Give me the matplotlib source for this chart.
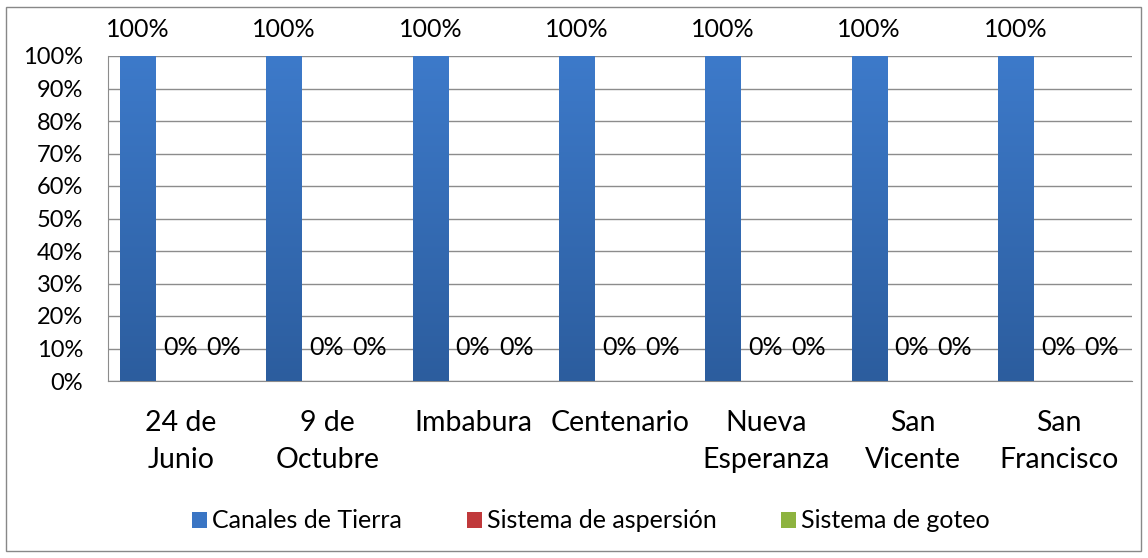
import matplotlib
matplotlib.use("Agg")
import matplotlib.pyplot as plt
from matplotlib.patches import Rectangle
from matplotlib.colors import LinearSegmentedColormap
import numpy as np

categories = ["24 de\nJunio", "9 de\nOctubre", "Imbabura", "Centenario",
              "Nueva\nEsperanza", "San\nVicente", "San\nFrancisco"]
series_names = ["Canales de Tierra", "Sistema de aspersión", "Sistema de goteo"]
canales = [100, 100, 100, 100, 100, 100, 100]
aspersion = [0, 0, 0, 0, 0, 0, 0]
goteo = [0, 0, 0, 0, 0, 0, 0]
yticks = [0, 10, 20, 30, 40, 50, 60, 70, 80, 90, 100]
colors = ["#3A75C4", "#C0393B", "#8DB33F"]
grad = [("#2C5D9E", "#3D7ACA"), ("#9B2D2F", "#D24446"), ("#76963A", "#9BC24F")]

plt.rcParams['font.family'] = ['Lato', 'DejaVu Sans']
W, H = 1148, 558
fig = plt.figure(figsize=(W/100, H/100), dpi=100)
fig.patches.append(Rectangle((6/W, 7/H), (1141-6)/W, (551-7)/H, transform=fig.transFigure,
                             fill=False, edgecolor="#888888", linewidth=1))
ax = fig.add_axes([108/W, 1-381/H, (1132-108)/W, (381-56)/H])

x = np.arange(len(categories))
w = 0.24
offs = [-0.297, -0.005, 0.29]
data = [canales, aspersion, goteo]
grad_img = np.linspace(1, 0, 256).reshape(-1, 1)
for i, (vals, c, name) in enumerate(zip(data, colors, series_names)):
    bars = ax.bar(x + offs[i], vals, width=w, color=c, label=name, zorder=3)
    cmap = LinearSegmentedColormap.from_list(f"g{i}", list(grad[i]))
    for b in bars:
        if b.get_height() > 0:
            bx, by = b.get_x(), b.get_y()
            im = ax.imshow(grad_img, cmap=cmap, aspect="auto", zorder=3.5,
                           extent=[bx, bx + b.get_width(), by, by + b.get_height()],
                           vmin=0, vmax=1)
            im.set_clip_path(b)
    for xi, v in zip(x + offs[i], vals):
        if v > 0:
            ax.annotate(f"{v}%", (xi, v), xytext=(0, 19), textcoords="offset points",
                        ha="center", va="center", fontsize=18)
        else:
            ax.annotate(f"{v}%", (xi, v), xytext=(0, 24), textcoords="offset points",
                        ha="center", va="center", fontsize=18, zorder=4)

ax.set_xlim(-0.5, len(categories) - 0.5)
ax.set_ylim(0, 100)
ax.set_yticks(yticks)
ax.set_yticklabels([f"{t}%" for t in yticks], fontsize=17)
ax.set_xticks(x)
ax.set_xticklabels(categories, fontsize=20.5, linespacing=1.5)
ax.tick_params(axis="both", length=0)
ax.tick_params(axis="x", pad=21)
ax.tick_params(axis="y", pad=18)
ax.grid(axis="y", color="#8C8C8C", linewidth=1, zorder=0)
for s in ["top", "right"]:
    ax.spines[s].set_visible(False)
ax.spines["left"].set_color("#8C8C8C")
ax.spines["bottom"].set_color("#8C8C8C")

fig.legend(loc="center", bbox_to_anchor=(591/W, 1-521/H), ncol=3, frameon=False,
           fontsize=18, handlelength=0.6, handleheight=0.6, handletextpad=0.2,
           columnspacing=2.6)

fig.savefig("out.png", dpi=100)
